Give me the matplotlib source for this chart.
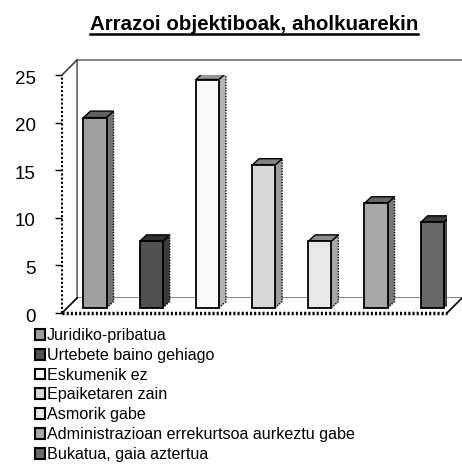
import numpy as np
import matplotlib.pyplot as plt
import matplotlib as mpl
from matplotlib.patches import Polygon, Patch
from matplotlib.lines import Line2D
from matplotlib.transforms import ScaledTranslation

plt.rcParams['font.family'] = ['Liberation Sans', 'DejaVu Sans']

# datuak
categories = ['Juridiko-pribatua', 'Urtebete baino gehiago', 'Eskumenik ez',
              'Epaiketaren zain', 'Asmorik gabe',
              'Administrazioan errekurtsoa aurkeztu gabe', 'Bukatua, gaia aztertua']
values = [20, 7, 24, 15, 7, 11, 9]
colors = ['#a0a0a0', '#505050', '#f8f8f8', '#d8d8d8', '#e8e8e8', '#a8a8a8', '#686868']
yticks = [0, 5, 10, 15, 20, 25]
title = 'Arrazoi objektiboak, aholkuarekin'


def shade(c, k):
    r, g, b = mpl.colors.to_rgb(c)
    return (r * k, g * k, b * k)


def main():
    W, H = 462, 465
    fig = plt.figure(figsize=(W / 100, H / 100), dpi=100)
    fig.patch.set_facecolor('white')
    ax = fig.add_axes([62 / W, (H - 313) / H, 385 / W, 238 / H])
    x0, x1 = -0.587, 6.263
    ymax = 25
    ax.set_xlim(x0, x1)
    ax.set_ylim(0, ymax)
    ax.patch.set_visible(False)
    for s in ax.spines.values():
        s.set_visible(False)

    # 3D offsets (data units)
    sx = 385 / (x1 - x0)
    sy = 238 / ymax
    dx, dy = 15 / sx, 15 / sy
    bdx, bdy = 7 / sx, 6.5 / sy
    base = 5 / sy

    # back wall
    ax.add_patch(Polygon([(x0 + dx, dy), (x1 + dx + 0.2, dy), (x1 + dx + 0.2, ymax + dy),
                          (x0 + dx, ymax + dy)], closed=True, fc='white', ec='#707070',
                         lw=1.2, clip_on=False, zorder=1))
    # left wall
    ax.add_patch(Polygon([(x0, 0), (x0 + dx, dy), (x0 + dx, ymax + dy), (x0, ymax)],
                         closed=True, fc='white', ec='none', clip_on=False, zorder=1))
    ax.plot([x0 + dx, x0 + dx], [dy, ymax + dy], color='#707070', lw=1.2, clip_on=False, zorder=2)
    ax.plot([x0, x0 + dx], [ymax, ymax + dy], color='#404040', lw=1.2, clip_on=False, zorder=2)
    ax.plot([x0, x0], [0, ymax], color='black', lw=1.5, ls=(0, (1, 1)), clip_on=False, zorder=2)
    # floor
    ax.add_patch(Polygon([(x0, 0), (x1, 0), (x1 + dx, dy), (x0 + dx, dy)], closed=True,
                         fc='white', ec='none', clip_on=False, zorder=1))
    ax.plot([x0, x0 + dx], [0, dy], color='black', lw=1.2, clip_on=False, zorder=2)
    ax.plot([x1, x1 + dx], [0, dy], color='black', lw=1.2, clip_on=False, zorder=2)
    ax.plot([x0, x1], [0, 0], color='black', lw=2.5, ls=(0, (0.6, 0.6)), clip_on=False, zorder=2)

    # bars
    xs = np.arange(len(values))
    w = 0.41
    bars = ax.bar(xs, values, width=w, bottom=base, color=colors, edgecolor='black',
                  linewidth=1.3, zorder=4)
    for b, c in zip(bars, colors):
        xl = b.get_x()
        xr = xl + b.get_width()
        yt = b.get_y() + b.get_height()
        yb = b.get_y()
        ax.add_patch(Polygon([(xr, yb), (xr + bdx, yb + bdy), (xr + bdx, yt + bdy), (xr, yt)],
                             closed=True, fc=shade(c, 0.72), ec='black', lw=1.0,
                             ls=(0, (1, 1)), zorder=3))
        ax.add_patch(Polygon([(xl, yt), (xr, yt), (xr + bdx, yt + bdy), (xl + bdx, yt + bdy)],
                             closed=True, fc=shade(c, 0.6), ec='black', lw=1.0, zorder=3))

    ax.set_xticks([])
    ax.set_yticks(yticks)
    ax.tick_params(axis='y', direction='out', length=5, width=1, pad=14, labelsize=13.5)
    off = ScaledTranslation(0, -2 / 100, fig.dpi_scale_trans)
    for lab in ax.get_yticklabels():
        lab.set_transform(lab.get_transform() + off)

    # legend
    handles = [Patch(fc=c, ec='black', lw=1.5) for c in colors]
    fig.legend(handles, categories, loc='upper left', bbox_to_anchor=(35 / W, 1 - 328 / H),
               frameon=False, fontsize=11.6, handlelength=0.65, handleheight=0.65,
               handletextpad=0.08, labelspacing=0.3, borderpad=0, borderaxespad=0)

    # title, underlined
    t = fig.text(254 / W, 1 - 30 / H, title, ha='center', va='baseline',
                 fontsize=14.8, fontweight='bold')
    fig.canvas.draw()
    bb = t.get_window_extent()
    yl = 1 - 34 / H
    fig.add_artist(Line2D([bb.x0 / W, bb.x1 / W], [yl, yl], color='black', lw=1.8,
                          transform=fig.transFigure))

    fig.savefig('out.png', dpi=100)


if __name__ == '__main__':
    main()
